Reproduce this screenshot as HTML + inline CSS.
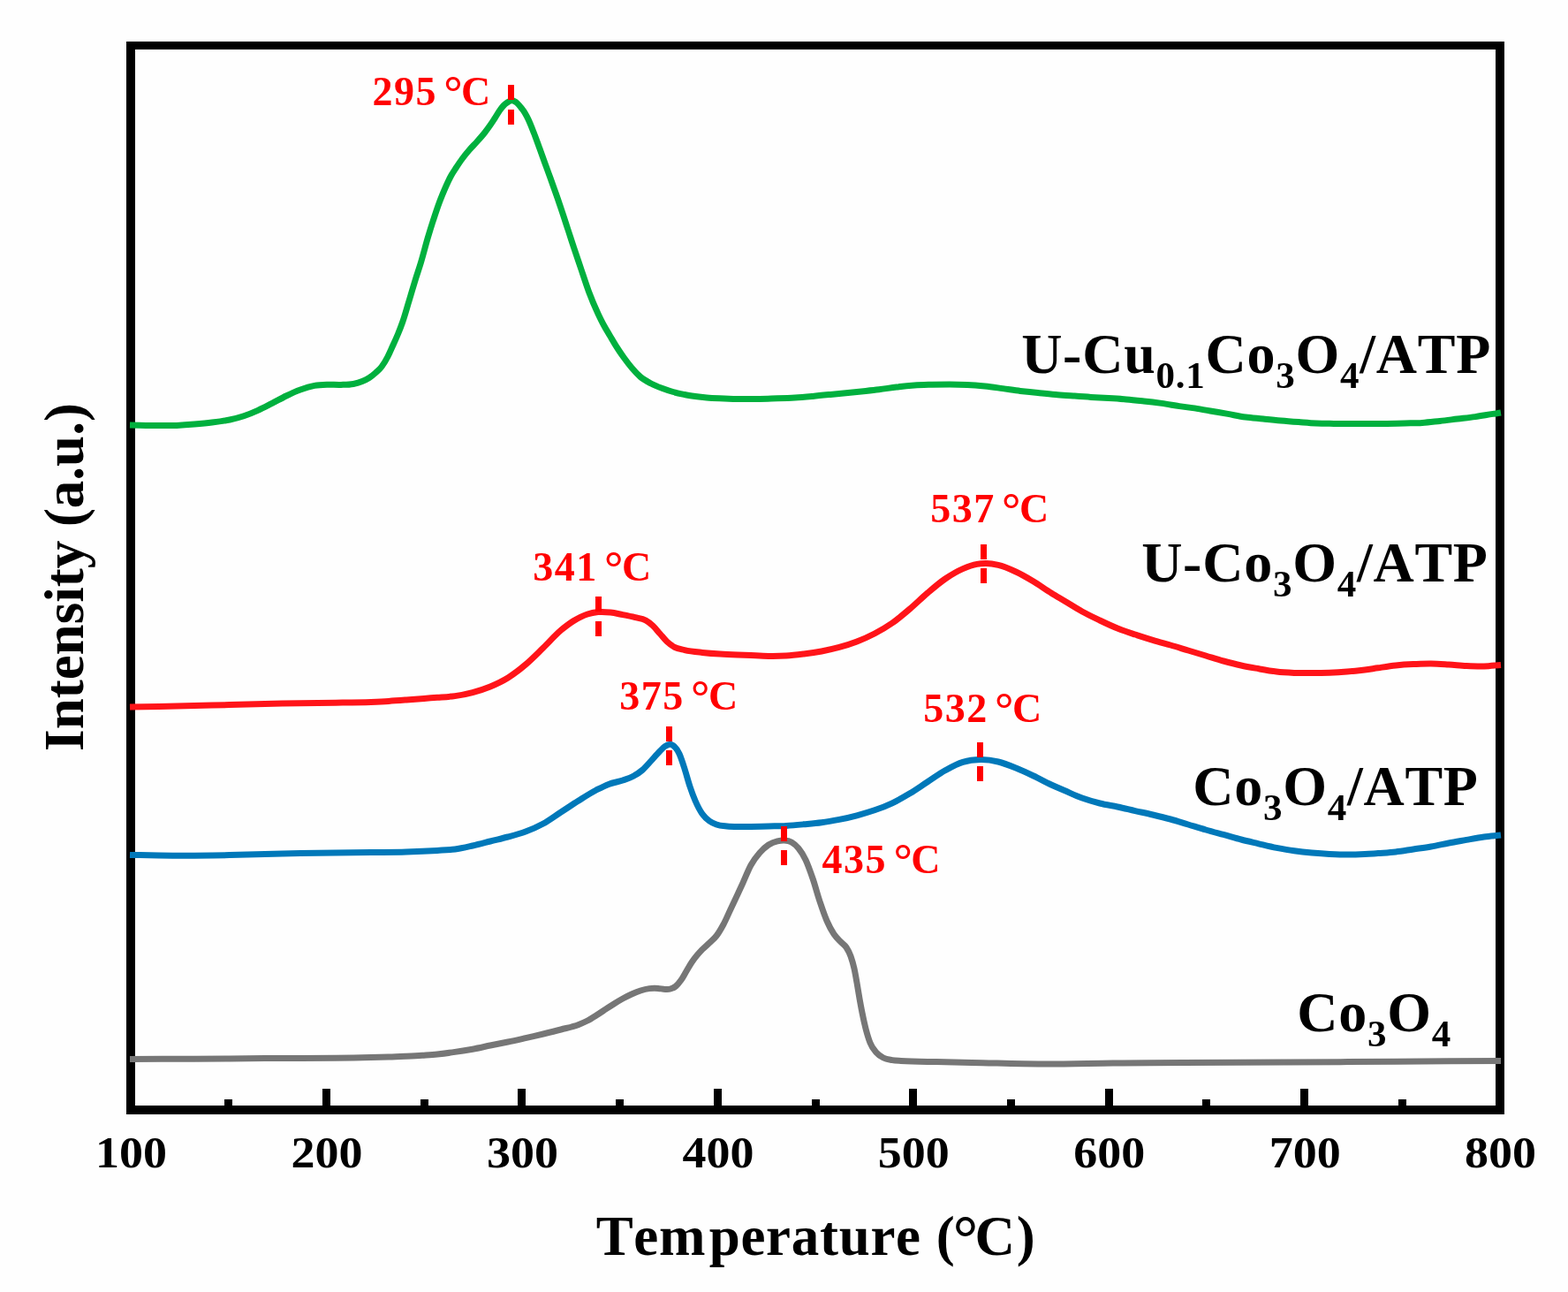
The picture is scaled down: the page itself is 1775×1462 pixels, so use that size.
<!DOCTYPE html>
<html lang="en"><head><meta charset="utf-8"><title>H2-TPR profiles</title>
<style>
html,body{margin:0;padding:0;background:#fff;}
body{width:1775px;height:1462px;overflow:hidden;}
svg{display:block;}
text{font-family:"Liberation Serif",serif;font-weight:bold;font-kerning:none;}
.tick{font-size:50px;fill:#000;text-anchor:middle;}
.title{font-size:63px;fill:#000;text-anchor:middle;}
.xt{letter-spacing:0.7px;}
.lab{font-size:64px;fill:#000;text-anchor:end;letter-spacing:0.75px;}
.sub{font-size:43px;}
.ann{font-size:46px;fill:#f00;text-anchor:start;letter-spacing:0px;word-spacing:-4.2px;}
.deg{font-size:53.5px;letter-spacing:-1.6px;}
.dg{letter-spacing:1.5px;}
.degt{font-size:71px;}
.curve{fill:none;stroke-width:7;stroke-linejoin:round;stroke-linecap:butt;}
.pk{stroke:#f00;stroke-width:7;fill:none;}
</style></head><body>
<svg width="1775" height="1462" viewBox="0 0 1775 1462">
<rect x="0" y="0" width="1775" height="1462" fill="#fefefe"/>
<g shape-rendering="crispEdges">
<path fill="#000" fill-rule="evenodd" d="M143 47H1703V1261H143ZM153 56V1251H1693V56Z"/>
<rect x="254.2" y="1244" width="9" height="8" fill="#000"/>
<rect x="364.9" y="1232" width="9" height="20" fill="#000"/>
<rect x="475.6" y="1244" width="9" height="8" fill="#000"/>
<rect x="586.4" y="1232" width="9" height="20" fill="#000"/>
<rect x="697.1" y="1244" width="9" height="8" fill="#000"/>
<rect x="807.8" y="1232" width="9" height="20" fill="#000"/>
<rect x="918.5" y="1244" width="9" height="8" fill="#000"/>
<rect x="1029.2" y="1232" width="9" height="20" fill="#000"/>
<rect x="1139.9" y="1244" width="9" height="8" fill="#000"/>
<rect x="1250.6" y="1232" width="9" height="20" fill="#000"/>
<rect x="1361.4" y="1244" width="9" height="8" fill="#000"/>
<rect x="1472.1" y="1232" width="9" height="20" fill="#000"/>
<rect x="1582.8" y="1244" width="9" height="8" fill="#000"/>
</g>
<text class="tick" transform="translate(148.6 1321) scale(1.08 1.01)" x="0" y="0">100</text>
<text class="tick" transform="translate(370.0 1321) scale(1.08 1.01)" x="0" y="0">200</text>
<text class="tick" transform="translate(591.5 1321) scale(1.08 1.01)" x="0" y="0">300</text>
<text class="tick" transform="translate(812.9 1321) scale(1.08 1.01)" x="0" y="0">400</text>
<text class="tick" transform="translate(1034.3 1321) scale(1.08 1.01)" x="0" y="0">500</text>
<text class="tick" transform="translate(1255.7 1321) scale(1.08 1.01)" x="0" y="0">600</text>
<text class="tick" transform="translate(1477.2 1321) scale(1.08 1.01)" x="0" y="0">700</text>
<text class="tick" transform="translate(1698.6 1321) scale(1.08 1.01)" x="0" y="0">800</text>
<text class="title xt" x="923.5" y="1420">Tem<tspan dx="3.5">perature</tspan> <tspan dx="0.5">(</tspan><tspan class="degt" dx="-2.5" dy="5">°</tspan><tspan dx="-4.5" dy="-5">C</tspan><tspan dx="1">)</tspan></text>
<text class="title" transform="translate(94 653) rotate(-90)" x="0" y="0">Intensity (a.u.)</text>
<path class="curve" stroke="#767676" d="M147.0 1198.4C171.3 1198.3 195.7 1198.3 220.0 1198.2C246.7 1198.1 273.3 1197.8 300.0 1197.6C326.7 1197.4 353.3 1197.5 380.0 1197.2C393.3 1197.0 406.7 1196.9 420.0 1196.6C426.7 1196.4 433.3 1196.2 440.0 1196.0C446.7 1195.8 453.3 1195.5 460.0 1195.2C466.0 1194.9 472.0 1194.6 478.0 1194.2C483.7 1193.8 489.3 1193.5 495.0 1192.9C501.7 1192.2 508.3 1191.4 515.0 1190.4C521.7 1189.5 528.3 1188.4 535.0 1187.2C541.7 1186.0 548.3 1184.4 555.0 1183.0C561.7 1181.6 568.3 1180.4 575.0 1179.0C581.7 1177.6 588.3 1176.1 595.0 1174.6C601.7 1173.1 608.3 1171.6 615.0 1170.0C621.7 1168.4 628.3 1166.8 635.0 1165.0C641.7 1163.2 648.3 1162.0 655.0 1159.4C658.3 1158.1 661.7 1156.7 665.0 1155.0C668.3 1153.3 671.7 1151.1 675.0 1149.0C678.3 1146.9 681.7 1144.6 685.0 1142.4C688.3 1140.2 691.7 1138.1 695.0 1136.0C698.3 1133.9 701.7 1131.8 705.0 1130.0C708.3 1128.2 711.7 1126.5 715.0 1125.0C718.3 1123.5 721.7 1122.1 725.0 1121.0C728.3 1119.9 731.7 1119.0 735.0 1118.6C738.3 1118.2 741.7 1118.2 745.0 1118.4C747.7 1118.6 750.3 1119.4 753.0 1119.4C755.0 1119.4 757.0 1119.6 759.0 1119.0C761.0 1118.4 763.0 1117.7 765.0 1116.0C767.0 1114.3 769.0 1111.8 771.0 1109.0C773.0 1106.2 775.0 1102.3 777.0 1099.0C779.0 1095.7 781.0 1092.0 783.0 1089.0C785.0 1086.0 787.0 1083.4 789.0 1081.0C791.0 1078.6 793.0 1076.5 795.0 1074.4C797.7 1071.7 800.3 1069.6 803.0 1067.0C805.7 1064.4 808.3 1062.5 811.0 1059.0C813.7 1055.5 816.3 1051.0 819.0 1046.0C821.7 1041.0 824.3 1034.7 827.0 1029.0C829.7 1023.3 832.3 1017.7 835.0 1012.0C837.0 1007.7 839.0 1003.4 841.0 999.0C844.0 992.4 847.0 984.5 850.0 979.0C853.3 972.9 856.7 968.8 860.0 965.0C863.3 961.2 866.7 958.2 870.0 956.0C873.3 953.8 876.7 952.6 880.0 951.8C882.7 951.2 885.3 950.8 888.0 951.0C890.7 951.2 893.3 951.5 896.0 953.0C898.7 954.5 901.3 956.7 904.0 960.0C906.7 963.3 909.3 967.3 912.0 973.0C914.7 978.7 917.3 986.2 920.0 994.0C922.7 1001.8 925.3 1012.0 928.0 1020.0C930.7 1028.0 933.3 1035.8 936.0 1042.0C938.7 1048.2 941.3 1053.0 944.0 1057.0C946.7 1061.0 949.3 1063.2 952.0 1066.0C954.0 1068.1 956.0 1068.9 958.0 1072.0C959.7 1074.6 961.3 1077.3 963.0 1082.0C964.3 1085.8 965.7 1089.9 967.0 1096.0C968.0 1100.5 969.0 1106.3 970.0 1112.0C971.0 1117.7 972.0 1124.3 973.0 1130.0C974.0 1135.7 975.0 1141.0 976.0 1146.0C977.3 1152.6 978.7 1158.8 980.0 1164.0C981.7 1170.5 983.3 1175.8 985.0 1180.0C987.3 1185.9 989.7 1188.2 992.0 1191.0C994.7 1194.2 997.3 1195.6 1000.0 1197.0C1003.3 1198.8 1006.7 1199.0 1010.0 1199.6C1013.3 1200.2 1016.7 1200.2 1020.0 1200.4C1033.3 1201.3 1046.7 1201.3 1060.0 1201.6C1073.3 1201.9 1086.7 1202.1 1100.0 1202.4C1126.7 1202.9 1153.3 1203.9 1180.0 1204.0C1206.7 1204.1 1233.3 1203.3 1260.0 1203.0C1286.7 1202.7 1313.3 1202.6 1340.0 1202.4C1378.3 1202.2 1416.7 1202.2 1455.0 1202.0C1496.7 1201.8 1538.3 1201.5 1580.0 1201.2C1619.7 1201.0 1659.3 1200.7 1699.0 1200.5"/>
<path class="curve" stroke="#0078b9" d="M147.0 967.4C158.0 967.6 169.0 967.9 180.0 968.0C193.3 968.2 206.7 968.3 220.0 968.2C233.3 968.1 246.7 967.9 260.0 967.6C273.3 967.3 286.7 966.7 300.0 966.4C313.3 966.1 326.7 965.8 340.0 965.6C353.3 965.4 366.7 965.2 380.0 965.0C393.3 964.8 406.7 964.8 420.0 964.6C433.3 964.4 446.7 964.4 460.0 964.0C471.7 963.6 483.3 963.1 495.0 962.4C501.7 962.0 508.3 961.9 515.0 961.0C521.7 960.1 528.3 958.5 535.0 957.0C541.7 955.5 548.3 953.7 555.0 952.0C561.7 950.3 568.3 948.8 575.0 947.0C581.7 945.2 588.3 943.5 595.0 941.0C601.7 938.5 608.3 935.7 615.0 932.0C621.7 928.3 628.3 923.3 635.0 919.0C641.7 914.7 648.3 910.2 655.0 906.0C661.7 901.8 668.3 897.5 675.0 894.0C679.7 891.6 684.3 889.2 689.0 887.4C694.3 885.4 699.7 884.8 705.0 883.0C709.0 881.6 713.0 880.5 717.0 878.3C720.3 876.5 723.7 874.4 727.0 871.5C730.3 868.6 733.7 864.6 737.0 861.0C740.3 857.4 743.7 853.3 747.0 850.0C749.0 848.0 751.0 845.7 753.0 844.4C754.5 843.4 755.9 842.5 757.4 842.4C759.3 842.2 761.1 842.8 763.0 844.4C765.0 846.2 767.0 848.7 769.0 853.0C771.0 857.3 773.0 863.8 775.0 870.0C777.0 876.2 779.0 884.0 781.0 890.0C783.0 896.0 785.0 901.3 787.0 906.0C789.7 912.2 792.3 917.2 795.0 921.0C797.7 924.8 800.3 927.0 803.0 929.0C805.7 931.0 808.3 932.0 811.0 933.0C815.0 934.5 819.0 934.6 823.0 935.0C827.0 935.4 831.0 935.5 835.0 935.6C840.0 935.7 845.0 935.5 850.0 935.4C856.7 935.3 863.3 935.2 870.0 935.0C876.7 934.8 883.3 934.8 890.0 934.4C896.7 934.0 903.3 933.4 910.0 932.8C916.7 932.2 923.3 931.7 930.0 930.8C936.7 929.9 943.3 928.7 950.0 927.4C956.7 926.1 963.3 924.6 970.0 922.8C976.7 921.0 983.3 919.1 990.0 916.8C996.7 914.5 1003.3 912.0 1010.0 908.8C1016.7 905.6 1023.3 901.8 1030.0 897.8C1036.7 893.8 1043.3 889.1 1050.0 884.8C1056.7 880.5 1063.3 875.5 1070.0 871.8C1076.7 868.1 1083.3 864.4 1090.0 862.4C1096.7 860.4 1103.3 859.7 1110.0 859.6C1116.7 859.5 1123.3 860.4 1130.0 862.0C1136.7 863.6 1143.3 866.3 1150.0 869.0C1156.7 871.7 1163.3 874.8 1170.0 878.0C1176.7 881.2 1183.3 884.9 1190.0 888.0C1195.0 890.3 1200.0 892.4 1205.0 894.5C1211.7 897.4 1218.3 900.6 1225.0 903.0C1231.7 905.4 1238.3 907.3 1245.0 909.0C1251.7 910.7 1258.3 911.6 1265.0 913.0C1271.7 914.4 1278.3 916.1 1285.0 917.6C1291.7 919.1 1298.3 920.4 1305.0 922.0C1311.7 923.6 1318.3 925.2 1325.0 927.0C1331.7 928.8 1338.3 931.0 1345.0 933.0C1351.7 935.0 1358.3 937.1 1365.0 939.0C1371.7 940.9 1378.3 942.6 1385.0 944.4C1391.7 946.2 1398.3 948.3 1405.0 950.0C1411.7 951.7 1418.3 953.2 1425.0 954.8C1431.7 956.4 1438.3 958.1 1445.0 959.4C1451.7 960.7 1458.3 961.9 1465.0 962.8C1471.7 963.7 1478.3 964.4 1485.0 965.0C1491.7 965.6 1498.3 966.1 1505.0 966.4C1511.7 966.7 1518.3 967.0 1525.0 967.0C1531.7 967.0 1538.3 966.8 1545.0 966.5C1550.0 966.3 1555.0 965.9 1560.0 965.6C1566.7 965.1 1573.3 964.8 1580.0 964.0C1586.7 963.2 1593.3 962.0 1600.0 961.0C1606.7 960.0 1613.3 959.2 1620.0 958.0C1626.7 956.8 1633.3 955.3 1640.0 954.0C1646.7 952.7 1653.3 951.6 1660.0 950.4C1666.7 949.2 1673.3 947.9 1680.0 947.0C1686.3 946.1 1692.7 945.7 1699.0 945.0"/>
<path class="pk" d="M887.5 935.0v17M887.5 962.0v17"/>
<path class="curve" stroke="#ff1419" d="M147.0 800.0C158.0 799.8 169.0 799.6 180.0 799.4C193.3 799.1 206.7 798.7 220.0 798.4C233.3 798.1 246.7 797.9 260.0 797.6C273.3 797.3 286.7 796.7 300.0 796.4C313.3 796.1 326.7 796.0 340.0 795.8C353.3 795.6 366.7 795.4 380.0 795.2C393.3 795.0 406.7 794.9 420.0 794.4C426.7 794.1 433.3 793.8 440.0 793.4C446.7 793.0 453.3 792.5 460.0 792.0C466.7 791.5 473.3 790.9 480.0 790.4C485.0 790.0 490.0 789.7 495.0 789.3C501.7 788.8 508.3 788.5 515.0 787.6C521.7 786.7 528.3 785.4 535.0 783.6C541.7 781.8 548.3 779.8 555.0 777.0C561.7 774.2 568.3 771.2 575.0 767.0C581.7 762.8 588.3 757.7 595.0 752.0C601.7 746.3 608.3 739.5 615.0 733.0C621.7 726.5 628.3 718.9 635.0 713.2C637.3 711.2 639.7 709.3 642.0 707.6C644.3 705.9 646.7 704.3 649.0 702.8C654.3 699.5 659.7 696.7 665.0 695.0C669.0 693.7 673.0 693.0 677.0 692.6C681.7 692.2 686.3 692.5 691.0 693.0C695.7 693.5 700.3 694.7 705.0 695.6C709.7 696.5 714.3 697.4 719.0 698.6C723.0 699.6 727.0 699.7 731.0 702.0C733.7 703.5 736.3 705.5 739.0 708.0C741.7 710.5 744.3 714.0 747.0 717.0C749.7 720.0 752.3 723.5 755.0 726.0C757.7 728.5 760.3 730.5 763.0 732.0C767.0 734.3 771.0 734.6 775.0 735.6C781.7 737.2 788.3 737.7 795.0 738.4C801.7 739.1 808.3 739.6 815.0 740.0C821.7 740.4 828.3 740.7 835.0 741.0C840.0 741.2 845.0 741.4 850.0 741.6C856.7 741.9 863.3 742.3 870.0 742.4C876.7 742.5 883.3 742.4 890.0 742.0C896.7 741.6 903.3 740.8 910.0 740.0C916.7 739.2 923.3 738.3 930.0 737.0C936.7 735.7 943.3 734.2 950.0 732.4C956.7 730.6 963.3 728.6 970.0 726.0C976.7 723.4 983.3 720.5 990.0 717.0C996.7 713.5 1003.3 709.7 1010.0 705.0C1016.7 700.3 1023.3 694.7 1030.0 689.0C1036.7 683.3 1043.3 676.7 1050.0 671.0C1056.7 665.3 1063.3 659.6 1070.0 655.0C1076.7 650.4 1083.3 646.5 1090.0 643.6C1095.3 641.3 1100.7 639.3 1106.0 638.4C1109.3 637.8 1112.7 637.6 1116.0 637.6C1120.7 637.6 1125.3 638.3 1130.0 639.4C1136.7 640.9 1143.3 643.9 1150.0 647.0C1156.7 650.1 1163.3 654.0 1170.0 658.0C1176.7 662.0 1183.3 666.9 1190.0 671.0C1195.0 674.1 1200.0 677.0 1205.0 680.0C1211.7 684.0 1218.3 688.3 1225.0 692.0C1231.7 695.7 1238.3 698.8 1245.0 702.0C1251.7 705.2 1258.3 708.3 1265.0 711.0C1271.7 713.7 1278.3 715.8 1285.0 718.0C1291.7 720.2 1298.3 722.4 1305.0 724.4C1311.7 726.4 1318.3 728.1 1325.0 730.0C1331.7 731.9 1338.3 734.0 1345.0 736.0C1351.7 738.0 1358.3 740.0 1365.0 742.0C1371.7 744.0 1378.3 746.2 1385.0 748.0C1391.7 749.8 1398.3 751.5 1405.0 753.0C1411.7 754.5 1418.3 755.6 1425.0 756.8C1431.7 758.0 1438.3 759.2 1445.0 760.0C1451.7 760.8 1458.3 761.1 1465.0 761.4C1471.7 761.7 1478.3 761.6 1485.0 761.6C1491.7 761.6 1498.3 761.5 1505.0 761.2C1511.7 760.9 1518.3 760.5 1525.0 760.0C1531.7 759.5 1538.3 758.8 1545.0 758.0C1550.0 757.4 1555.0 756.5 1560.0 755.8C1566.7 754.8 1573.3 753.7 1580.0 753.0C1586.7 752.3 1593.3 751.9 1600.0 751.6C1606.7 751.3 1613.3 750.9 1620.0 751.0C1626.7 751.1 1633.3 751.6 1640.0 752.0C1646.7 752.4 1653.3 753.3 1660.0 753.6C1666.7 753.9 1673.3 754.2 1680.0 754.0C1686.3 753.8 1692.7 752.9 1699.0 752.4"/>
<path class="curve" stroke="#00b03e" d="M147.0 481.0C158.0 481.2 169.0 481.6 180.0 481.6C186.7 481.6 193.3 481.7 200.0 481.4C206.7 481.1 213.3 480.6 220.0 480.0C226.7 479.4 233.3 478.8 240.0 478.0C246.7 477.2 253.3 476.4 260.0 475.0C265.3 473.9 270.7 472.6 276.0 470.8C281.3 469.0 286.7 466.8 292.0 464.4C297.3 462.0 302.7 459.1 308.0 456.4C313.3 453.7 318.7 450.6 324.0 448.0C329.3 445.4 334.7 442.9 340.0 441.0C345.3 439.1 350.7 437.4 356.0 436.4C360.7 435.6 365.3 435.4 370.0 435.2C375.3 435.0 380.7 435.6 386.0 435.4C390.7 435.3 395.3 435.4 400.0 434.5C403.3 433.8 406.7 432.9 410.0 431.5C412.7 430.4 415.3 429.2 418.0 427.5C420.3 426.0 422.7 424.1 425.0 422.0C427.3 419.9 429.7 418.1 432.0 415.0C434.3 411.9 436.7 408.0 439.0 403.5C441.1 399.5 443.1 394.6 445.2 390.0C447.0 386.1 448.7 382.3 450.5 378.0C452.2 373.9 453.8 369.8 455.5 365.0C458.1 357.7 460.6 348.4 463.2 340.0C465.7 331.8 468.2 323.1 470.7 315.0C472.7 308.6 474.7 302.9 476.7 296.2C479.1 288.1 481.6 278.3 484.0 270.0C486.1 263.0 488.1 256.4 490.2 250.0C492.5 243.0 494.7 236.2 497.0 230.0C499.7 222.6 502.5 216.1 505.2 210.0C506.8 206.5 508.4 203.0 510.0 200.0C512.1 196.1 514.1 193.2 516.2 190.0C518.5 186.5 520.7 183.1 523.0 180.0C525.7 176.3 528.3 173.1 531.0 170.0C534.1 166.4 537.1 163.5 540.2 160.0C543.1 156.8 545.9 153.7 548.8 150.0C550.9 147.3 552.9 144.5 555.0 141.5C556.7 139.1 558.3 136.6 560.0 134.0C562.0 130.9 564.0 127.3 566.0 124.5C567.3 122.7 568.7 120.9 570.0 119.5C571.3 118.1 572.7 117.1 574.0 116.2C575.7 115.1 577.3 113.9 579.0 113.8C580.7 113.7 582.3 114.4 584.0 115.5C586.0 116.9 588.0 119.5 590.0 122.0C591.3 123.7 592.7 125.3 594.0 127.5C595.3 129.7 596.7 132.2 598.0 135.0C600.1 139.4 602.2 144.9 604.3 150.3C606.4 155.6 608.4 161.4 610.5 167.0C612.7 172.9 614.8 179.0 617.0 185.0C619.2 191.0 621.3 196.8 623.5 202.8C625.7 208.8 627.8 214.8 630.0 221.0C632.2 227.2 634.3 233.7 636.5 240.2C638.7 246.7 640.8 253.4 643.0 260.0C645.2 266.6 647.3 273.3 649.5 279.8C652.3 288.3 655.2 296.6 658.0 305.0C660.8 313.4 663.7 322.4 666.5 330.0C670.0 339.4 673.5 347.5 677.0 355.0C679.2 359.6 681.3 364.0 683.5 368.0C685.8 372.3 688.2 376.1 690.5 380.0C693.0 384.2 695.5 388.6 698.0 392.5C700.8 397.0 703.7 401.1 706.5 405.0C709.3 408.9 712.2 412.7 715.0 416.0C718.3 419.9 721.7 423.6 725.0 426.5C729.0 429.9 733.0 431.9 737.0 434.0C741.3 436.3 745.7 437.9 750.0 439.5C754.0 441.0 758.0 442.4 762.0 443.5C766.3 444.7 770.7 445.6 775.0 446.5C779.0 447.3 783.0 447.9 787.0 448.5C791.3 449.1 795.7 449.6 800.0 450.0C806.7 450.6 813.3 450.7 820.0 451.0C826.7 451.3 833.3 451.5 840.0 451.6C846.7 451.7 853.3 451.5 860.0 451.4C866.7 451.3 873.3 451.0 880.0 450.8C886.7 450.6 893.3 450.4 900.0 450.0C906.7 449.6 913.3 449.0 920.0 448.4C926.7 447.8 933.3 447.1 940.0 446.4C946.7 445.7 953.3 445.1 960.0 444.4C966.7 443.7 973.3 443.1 980.0 442.4C985.0 441.9 990.0 441.4 995.0 440.8C1001.7 440.0 1008.3 438.8 1015.0 438.0C1021.7 437.2 1028.3 436.5 1035.0 436.0C1041.7 435.5 1048.3 435.4 1055.0 435.2C1061.7 435.0 1068.3 435.0 1075.0 435.0C1081.7 435.0 1088.3 435.1 1095.0 435.4C1101.7 435.7 1108.3 436.3 1115.0 437.0C1121.7 437.7 1128.3 438.7 1135.0 439.6C1141.7 440.5 1148.3 441.6 1155.0 442.4C1161.7 443.2 1168.3 443.9 1175.0 444.6C1181.7 445.3 1188.3 446.0 1195.0 446.6C1201.7 447.2 1208.3 447.5 1215.0 448.0C1221.7 448.5 1228.3 449.0 1235.0 449.4C1241.7 449.8 1248.3 450.2 1255.0 450.6C1261.7 451.0 1268.3 451.4 1275.0 452.0C1281.7 452.6 1288.3 453.3 1295.0 454.0C1301.7 454.7 1308.3 455.5 1315.0 456.4C1321.7 457.3 1328.3 458.6 1335.0 459.6C1340.0 460.3 1345.0 460.9 1350.0 461.6C1356.7 462.6 1363.3 463.9 1370.0 465.0C1376.7 466.1 1383.3 467.2 1390.0 468.4C1396.7 469.6 1403.3 471.1 1410.0 472.0C1416.7 472.9 1423.3 473.3 1430.0 474.0C1436.7 474.7 1443.3 475.4 1450.0 476.0C1456.7 476.6 1463.3 477.1 1470.0 477.6C1476.7 478.1 1483.3 478.7 1490.0 479.0C1496.7 479.3 1503.3 479.3 1510.0 479.4C1516.7 479.5 1523.3 479.6 1530.0 479.6C1536.7 479.6 1543.3 479.6 1550.0 479.6C1556.7 479.6 1563.3 479.5 1570.0 479.4C1576.7 479.3 1583.3 479.2 1590.0 479.0C1596.7 478.8 1603.3 478.8 1610.0 478.4C1616.7 478.0 1623.3 477.1 1630.0 476.4C1636.7 475.7 1643.3 474.8 1650.0 474.0C1656.7 473.2 1663.3 472.5 1670.0 471.6C1676.7 470.7 1683.3 469.4 1690.0 468.4C1693.0 467.9 1696.0 467.5 1699.0 467.0"/>
<path class="pk" d="M578.5 96.0v17M578.5 124.0v17"/>
<path class="pk" d="M677.5 675.0v17M677.5 703.0v17"/>
<path class="pk" d="M1113.5 616.0v17M1113.5 643.0v17"/>
<path class="pk" d="M757.5 822.0v17M757.5 849.0v17"/>
<path class="pk" d="M1109.5 840.0v17M1109.5 867.0v17"/>
<text class="ann" x="421.5" y="119"><tspan class="dg">295</tspan> <tspan class="deg" dy="3">°</tspan><tspan dy="-3">C</tspan></text>
<text class="ann" x="603.3" y="657"><tspan class="dg">341</tspan> <tspan class="deg" dy="3">°</tspan><tspan dy="-3">C</tspan></text>
<text class="ann" x="1053.3" y="591"><tspan class="dg">537</tspan> <tspan class="deg" dy="3">°</tspan><tspan dy="-3">C</tspan></text>
<text class="ann" x="701.3" y="802.5"><tspan class="dg">375</tspan> <tspan class="deg" dy="3">°</tspan><tspan dy="-3">C</tspan></text>
<text class="ann" x="1045.3" y="817"><tspan class="dg">532</tspan> <tspan class="deg" dy="3">°</tspan><tspan dy="-3">C</tspan></text>
<text class="ann" x="930.6" y="988"><tspan class="dg">435</tspan> <tspan class="deg" dy="3">°</tspan><tspan dy="-3">C</tspan></text>
<text class="lab" x="1688" y="422">U-Cu<tspan class="sub" dy="17">0.1</tspan><tspan dy="-17">Co</tspan><tspan class="sub" dy="17">3</tspan><tspan dy="-17">O</tspan><tspan class="sub" dy="17">4</tspan><tspan dy="-17">/ATP</tspan></text>
<text class="lab" x="1684.7" y="658">U-Co<tspan class="sub" dy="17">3</tspan><tspan dy="-17">O</tspan><tspan class="sub" dy="17">4</tspan><tspan dy="-17">/ATP</tspan></text>
<text class="lab" x="1673.7" y="911">Co<tspan class="sub" dy="17">3</tspan><tspan dy="-17">O</tspan><tspan class="sub" dy="17">4</tspan><tspan dy="-17">/ATP</tspan></text>
<text class="lab" x="1643" y="1167">Co<tspan class="sub" dy="17">3</tspan><tspan dy="-17">O</tspan><tspan class="sub" dy="17">4</tspan><tspan dy="-17"></tspan></text>
</svg>
</body></html>
